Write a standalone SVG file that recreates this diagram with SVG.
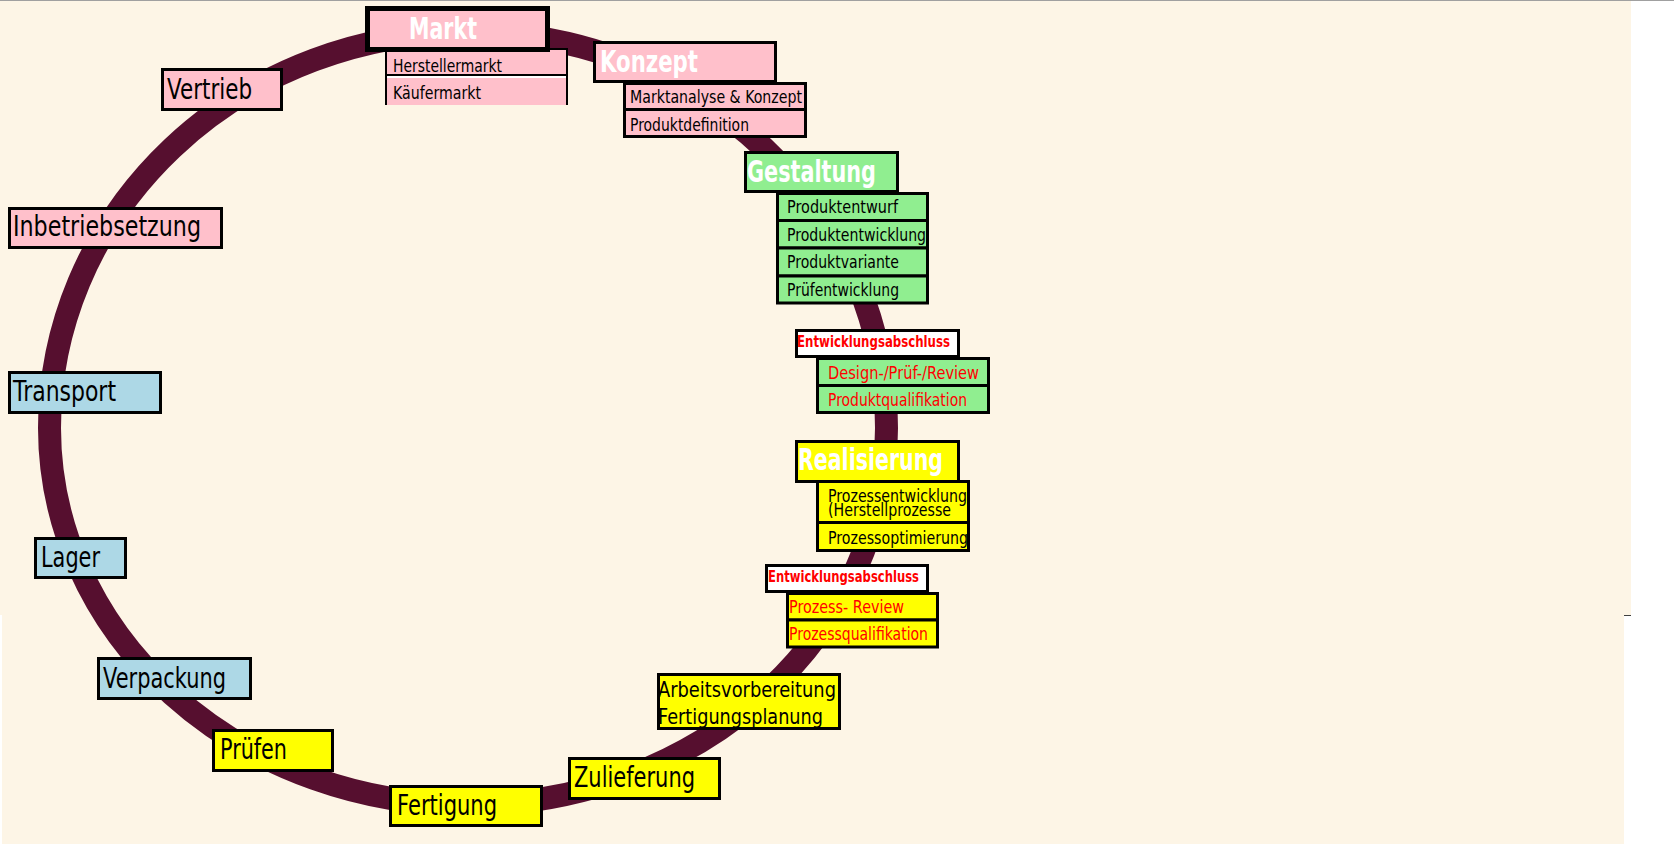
<svg xmlns="http://www.w3.org/2000/svg" width="1674" height="847" viewBox="0 0 1674 847">
<style>
.bx{stroke:#000;stroke-width:3}
.pk{fill:#FFC0CB}.gr{fill:#90EE90}.ye{fill:#FFFF00}.bl{fill:#ADD8E6}.wh{fill:#FFFFFF}
text{font-family:"DejaVu Sans","Liberation Sans",sans-serif}
.lb{font-size:28px;fill:#000}
.hd{font-size:30px;font-weight:bold;fill:#FFF}
.sm{font-size:18px;fill:#000}
.rd{fill:#FF0000}
.ea{font-size:15px;font-weight:bold;fill:#FF0000}
</style>
<rect x="0" y="0" width="1674" height="847" fill="#FFFFFF"/>
<rect x="0" y="1" width="1631" height="614" fill="#FDF5E6"/>
<rect x="2" y="615" width="1622" height="229" fill="#FDF5E6"/>
<line x1="0" y1="0.5" x2="1674" y2="0.5" stroke="#A0A0A0"/>
<line x1="1624" y1="615.5" x2="1631" y2="615.5" stroke="#404040"/>

<g id="connectors">
<path d="M49.5,428 A418.5,396 0 0 1 886.5,428 A418.5,377 0 0 1 49.5,428 Z" fill="none" stroke="#560F2F" stroke-width="23"/>
</g>

<g id="vertrieb"><rect class="bx pk" x="162.5" y="69.5" width="119" height="40"/><text class="lb" x="167" y="99" textLength="85" lengthAdjust="spacingAndGlyphs">Vertrieb</text></g>
<g id="inbetriebsetzung"><rect class="bx pk" x="9.5" y="208.5" width="212" height="39"/><text class="lb" x="13" y="236" textLength="188" lengthAdjust="spacingAndGlyphs">Inbetriebsetzung</text></g>
<g id="transport"><rect class="bx bl" x="9.5" y="372.5" width="151" height="40"/><text class="lb" x="13" y="401" textLength="103" lengthAdjust="spacingAndGlyphs">Transport</text></g>
<g id="lager"><rect class="bx bl" x="35.5" y="538.5" width="90" height="39"/><text class="lb" x="41" y="567" textLength="59" lengthAdjust="spacingAndGlyphs">Lager</text></g>
<g id="verpackung"><rect class="bx bl" x="98.5" y="658.5" width="152" height="40"/><text class="lb" x="103" y="688" textLength="123" lengthAdjust="spacingAndGlyphs">Verpackung</text></g>
<g id="pruefen"><rect class="bx ye" x="213.5" y="730.5" width="119" height="40"/><text class="lb" x="220" y="759" textLength="67" lengthAdjust="spacingAndGlyphs">Prüfen</text></g>
<g id="fertigung"><rect class="bx ye" x="390.5" y="786.5" width="151" height="39"/><text class="lb" x="397" y="815" textLength="100" lengthAdjust="spacingAndGlyphs">Fertigung</text></g>
<g id="zulieferung"><rect class="bx ye" x="569.5" y="758.5" width="150" height="40"/><text class="lb" x="574" y="787" textLength="121" lengthAdjust="spacingAndGlyphs">Zulieferung</text></g>
<g id="arbeitsvorbereitung"><rect class="bx ye" x="658.5" y="674.5" width="181" height="54"/>
<text x="658" y="697" font-size="21" textLength="178" lengthAdjust="spacingAndGlyphs">Arbeitsvorbereitung</text>
<text x="658" y="724" font-size="21" textLength="165" lengthAdjust="spacingAndGlyphs">Fertigungsplanung</text></g>

<g id="markt">
<rect class="pk" x="386" y="49" width="181" height="26" stroke="#000" stroke-width="2"/>
<text class="sm" x="393" y="72" textLength="109" lengthAdjust="spacingAndGlyphs">Herstellermarkt</text>
<rect class="pk" x="386" y="78" width="181" height="27"/>
<line x1="386" y1="77" x2="567" y2="77" stroke="#FFF" stroke-width="2"/>
<path d="M386,76V105M567,76V105" stroke="#000" stroke-width="2" fill="none"/>
<text class="sm" x="393" y="99" textLength="88" lengthAdjust="spacingAndGlyphs">Käufermarkt</text>
<rect class="pk" x="367.5" y="8.5" width="180" height="41" stroke="#000" stroke-width="5"/>
<text class="hd" x="409" y="39" textLength="68" lengthAdjust="spacingAndGlyphs">Markt</text>
</g>

<g id="konzept">
<rect class="bx pk" x="594.5" y="42.5" width="181" height="39"/>
<text class="hd" x="600" y="72" textLength="98" lengthAdjust="spacingAndGlyphs">Konzept</text>
<rect class="bx pk" x="624.5" y="83.5" width="181" height="26"/>
<text class="sm" x="630" y="103" textLength="172" lengthAdjust="spacingAndGlyphs">Marktanalyse &amp; Konzept</text>
<rect class="bx pk" x="624.5" y="109.5" width="181" height="27"/>
<text class="sm" x="630" y="131" textLength="119" lengthAdjust="spacingAndGlyphs">Produktdefinition</text>
</g>

<g id="gestaltung">
<rect class="bx gr" x="745.5" y="152.5" width="152" height="39"/>
<text class="hd" x="747" y="182" textLength="129" lengthAdjust="spacingAndGlyphs">Gestaltung</text>
<rect class="bx gr" x="777.5" y="193.5" width="150" height="27"/>
<text class="sm" x="787" y="213" textLength="111" lengthAdjust="spacingAndGlyphs">Produktentwurf</text>
<rect class="bx gr" x="777.5" y="220.5" width="150" height="27.5"/>
<text class="sm" x="787" y="241" textLength="139" lengthAdjust="spacingAndGlyphs">Produktentwicklung</text>
<rect class="bx gr" x="777.5" y="248" width="150" height="28"/>
<text class="sm" x="787" y="268" textLength="112" lengthAdjust="spacingAndGlyphs">Produktvariante</text>
<rect class="bx gr" x="777.5" y="276" width="150" height="27"/>
<text class="sm" x="787" y="296" textLength="112" lengthAdjust="spacingAndGlyphs">Prüfentwicklung</text>
</g>

<g id="entwicklungsabschluss1">
<rect class="bx wh" x="796.5" y="330.5" width="162" height="26"/>
<text class="ea" x="797" y="347" textLength="153" lengthAdjust="spacingAndGlyphs">Entwicklungsabschluss</text>
<rect class="bx gr" x="817.5" y="358.5" width="171" height="27"/>
<text class="sm rd" x="828" y="379" textLength="151" lengthAdjust="spacingAndGlyphs">Design-/Prüf-/Review</text>
<rect class="bx gr" x="817.5" y="385.5" width="171" height="27"/>
<text class="sm rd" x="828" y="406" textLength="139" lengthAdjust="spacingAndGlyphs">Produktqualifikation</text>
</g>

<g id="realisierung">
<rect class="bx ye" x="796.5" y="441.5" width="162" height="40"/>
<text class="hd" x="798" y="470" textLength="145" lengthAdjust="spacingAndGlyphs">Realisierung</text>
<rect class="bx ye" x="817.5" y="481.5" width="151" height="41"/>
<text class="sm" x="828" y="502" textLength="139" lengthAdjust="spacingAndGlyphs">Prozessentwicklung</text>
<text class="sm" x="828" y="516" textLength="123" lengthAdjust="spacingAndGlyphs">(Herstellprozesse</text>
<rect class="bx ye" x="817.5" y="522.5" width="151" height="28"/>
<text class="sm" x="828" y="544" textLength="140" lengthAdjust="spacingAndGlyphs">Prozessoptimierung</text>
</g>

<g id="entwicklungsabschluss2">
<rect class="bx wh" x="766.5" y="565.5" width="161" height="26"/>
<text class="ea" x="768" y="582" textLength="151" lengthAdjust="spacingAndGlyphs">Entwicklungsabschluss</text>
<rect class="bx ye" x="787.5" y="593.5" width="150" height="26.5"/>
<text class="sm rd" x="789" y="613" textLength="115" lengthAdjust="spacingAndGlyphs">Prozess- Review</text>
<rect class="bx ye" x="787.5" y="620" width="150" height="27"/>
<text class="sm rd" x="789" y="640" textLength="139" lengthAdjust="spacingAndGlyphs">Prozessqualifikation</text>
</g>
</svg>
